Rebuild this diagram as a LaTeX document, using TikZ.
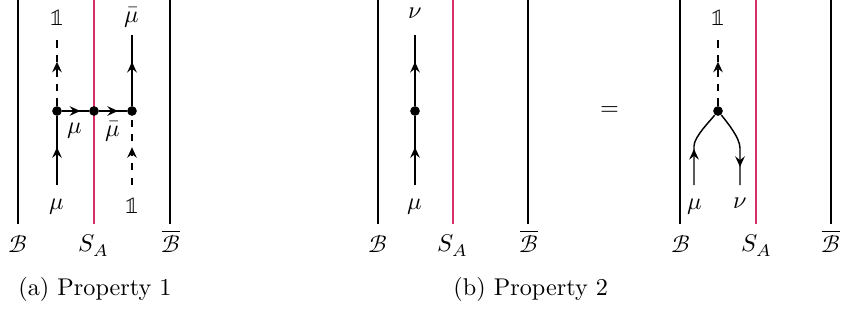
\documentclass[tikz,border=0pt]{standalone}
\usepackage{amsmath}
\usepackage{unicode-math}
\usetikzlibrary{arrows.meta, positioning, decorations.markings}
\definecolor{SectorMagenta}{RGB}{215, 45, 105}
\tikzset{
  wall/.style={line width=1.1pt, draw=black},
  sector/.style={line width=0.8pt, draw=SectorMagenta},
  strand/.style={line width=0.6pt},
  ghost/.style={line width=0.6pt, dashed},
  vdot/.style={circle, fill=black, inner sep=0pt, minimum size=4pt},
  lbl/.style={anchor=base, inner sep=0pt},
  arrowat/.style={postaction={decorate},
                  decoration={markings, mark=at position #1 with
                  {\arrow{Stealth[length=4.4pt, width=4pt, inset=1.6pt]}}}},
}

\begin{document}
\begin{tikzpicture}[x=0.4132pt, y=-0.4132pt]
  \useasboundingbox (0,0) rectangle (841,320);

  %% PANEL (a): WALLS
  \coordinate (aB1) at (18,0);   \coordinate (aB2) at (18,224);
  \coordinate (aS1) at (94,0);   \coordinate (aS2) at (94,224);
  \coordinate (aC1) at (170,0);  \coordinate (aC2) at (170,224);
  \draw[wall]   (aB1) -- (aB2);
  \draw[sector] (aS1) -- (aS2);
  \draw[wall]   (aC1) -- (aC2);
  \node[lbl] (aBl) at (18,252)  {$\mathcal{B}$};
  \node[lbl] (aSl) at (94,251)  {$S_A$};
  \node[lbl] (aCl) at (171,252) {$\overline{\mathcal{B}}$};

  %% PANEL (a): STRANDS
  \node[vdot] (aL) at (57,111) {};
  \node[vdot] (aM) at (94,111) {};
  \node[vdot] (aR) at (132,111) {};
  \coordinate (aLt) at (57,37);  \coordinate (aLb) at (57,185);
  \coordinate (aRt) at (132,35); \coordinate (aRb) at (132,185);
  \draw[strand, arrowat=0.55] (aLb) -- (aL);
  \draw[ghost,  arrowat=0.64] (aL)  -- (aLt);
  \draw[strand, arrowat=0.68] (aL)  -- (aM);
  \draw[strand, arrowat=0.68] (aM)  -- (aR);
  \draw[ghost,  arrowat=0.55] (aRb) -- (aR);
  \draw[strand, arrowat=0.62] (aR)  -- (aRt);
  \node[lbl] (aLtl) at (57,25)   {$\mathbb{1}$};
  \node[lbl] (aRtl) at (132,22)  {$\bar{\mu}$};
  \node[lbl] (aLbl) at (57,209)  {$\mu$};
  \node[lbl] (aRbl) at (132,213) {$\mathbb{1}$};
  \node[lbl] (aMl)  at (75,133)  {$\mu$};
  \node[lbl] (aMr)  at (113,136) {$\bar{\mu}$};

  %% PANEL (b), LEFT SIDE
  \coordinate (bB1) at (378,0);  \coordinate (bB2) at (378,224);
  \coordinate (bS1) at (453,0);  \coordinate (bS2) at (453,224);
  \coordinate (bC1) at (528,0);  \coordinate (bC2) at (528,224);
  \draw[wall]   (bB1) -- (bB2);
  \draw[sector] (bS1) -- (bS2);
  \draw[wall]   (bC1) -- (bC2);
  \node[lbl] (bBl) at (378,252) {$\mathcal{B}$};
  \node[lbl] (bSl) at (453,251) {$S_A$};
  \node[lbl] (bCl) at (529,252) {$\overline{\mathcal{B}}$};

  \node[vdot] (bV) at (415,111) {};
  \coordinate (bVt) at (415,35); \coordinate (bVb) at (415,185);
  \draw[strand, arrowat=0.55] (bVb) -- (bV);
  \draw[strand, arrowat=0.62] (bV)  -- (bVt);
  \node[lbl] (bVtl) at (415,18)  {$\nu$};
  \node[lbl] (bVbl) at (415,209) {$\mu$};

  %% EQUALS
  \node (eq) at (610,111) {$=$};

  %% PANEL (b), RIGHT SIDE
  \coordinate (cB1) at (680,0);  \coordinate (cB2) at (680,224);
  \coordinate (cS1) at (756,0);  \coordinate (cS2) at (756,224);
  \coordinate (cC1) at (831,0);  \coordinate (cC2) at (831,224);
  \draw[wall]   (cB1) -- (cB2);
  \draw[sector] (cS1) -- (cS2);
  \draw[wall]   (cC1) -- (cC2);
  \node[lbl] (cBl) at (681,252) {$\mathcal{B}$};
  \node[lbl] (cSl) at (757,251) {$S_A$};
  \node[lbl] (cCl) at (831,252) {$\overline{\mathcal{B}}$};

  \node[vdot] (cV) at (718,111) {};
  \coordinate (cVt) at (718,37);
  \coordinate (cLb) at (694,185); \coordinate (cLm) at (694,146);
  \coordinate (cRm) at (740,148); \coordinate (cRb) at (740,185);
  \draw[ghost,  arrowat=0.64] (cV)  -- (cVt);
  \draw[strand, arrowat=0.47] (cLb) -- (cLm)
       .. controls (694,137) and (710,121) .. (cV);
  \draw[strand, arrowat=0.76] (cV)
       .. controls (727,122) and (740,138) .. (cRm) -- (cRb);
  \node[lbl] (cVtl) at (718,25)  {$\mathbb{1}$};
  \node[lbl] (cLbl) at (695,209) {$\mu$};
  \node[lbl] (cRbl) at (740,208) {$\nu$};

  %% CAPTIONS
  \node[anchor=base west, inner sep=0pt] (capA) at (18,295)  {(a) Property 1};
  \node[anchor=base west, inner sep=0pt] (capB) at (453,295) {(b) Property 2};

\end{tikzpicture}
\end{document}
